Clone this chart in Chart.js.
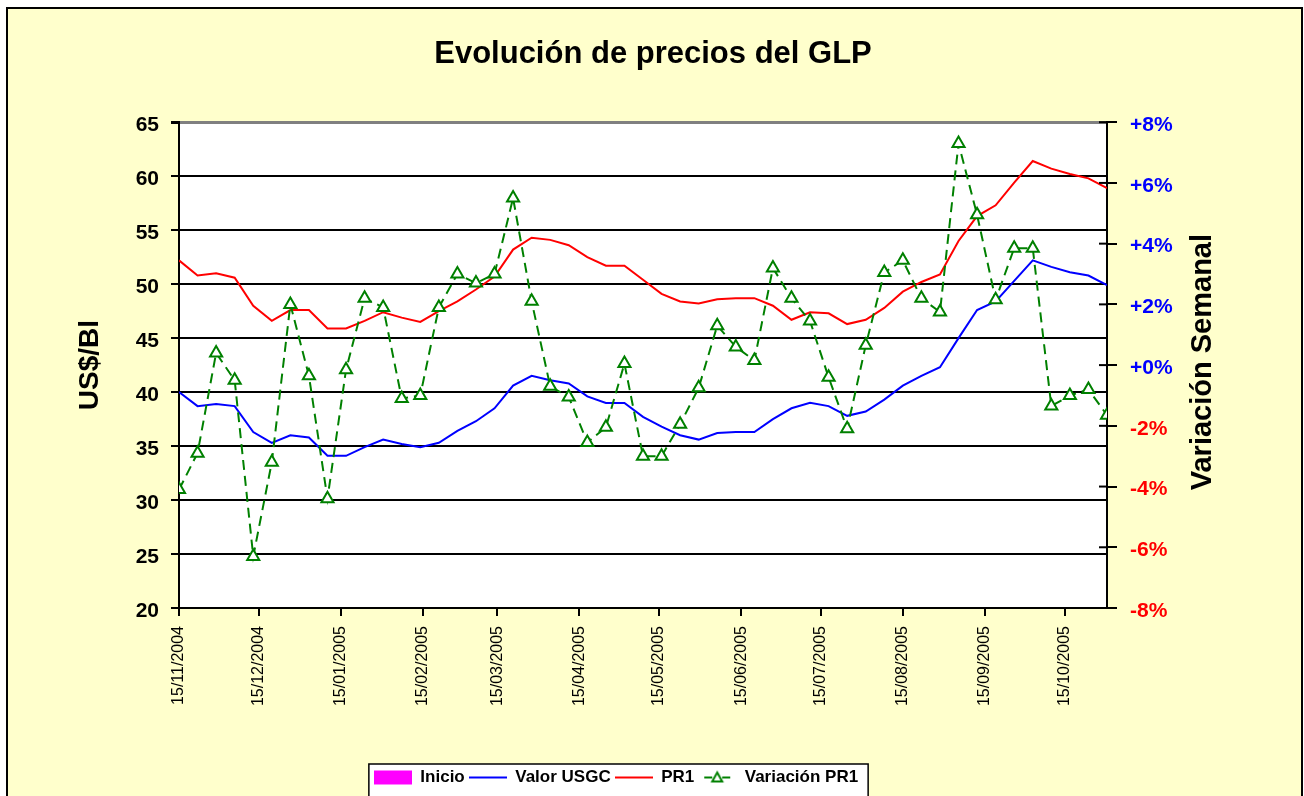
<!DOCTYPE html>
<html lang="es">
<head>
<meta charset="UTF-8">
<title>Evolución de precios del GLP</title>
<script src="https://cdn.jsdelivr.net/npm/chart.js@4.4.1/dist/chart.umd.min.js"></script>
<style>
  body { margin: 0; background: #fff; }
  #frame { position: absolute; left: 6px; top: 7px; width: 1297px; height: 820px; box-sizing: border-box;
           border: 2px solid #000; background: #FFFFCC; }
  #chart { position: absolute; left: 0; top: 0; }
</style>
</head>
<body>
<div id="frame"></div>
<canvas id="chart" width="1304" height="796"></canvas>

<script>
// weekly data, first point 15/11/2004
const startDate = Date.UTC(2004, 10, 15);
const xTickLabels = ['15/11/2004', '15/12/2004', '15/01/2005', '15/02/2005', '15/03/2005', '15/04/2005',
  '15/05/2005', '15/06/2005', '15/07/2005', '15/08/2005', '15/09/2005', '15/10/2005'];

const valorUSGC = [40.0, 38.7, 38.9, 38.7, 36.3, 35.3, 36.0, 35.8, 34.1, 34.1, 34.9, 35.6, 35.2, 34.9, 35.3, 36.4,
  37.3, 38.5, 40.6, 41.5, 41.1, 40.8, 39.6, 39.0, 39.0, 37.7, 36.8, 36.0, 35.6, 36.2, 36.3, 36.3, 37.5, 38.5,
  39.0, 38.7, 37.8, 38.2, 39.3, 40.6, 41.5, 42.3, 45.0, 47.6, 48.4, 50.3, 52.2, 51.6, 51.1, 50.8, 49.9];

const pr1 = [52.2, 50.8, 51.0, 50.6, 48.0, 46.6, 47.6, 47.6, 45.9, 45.9, 46.6, 47.4, 46.9, 46.5, 47.5, 48.4,
  49.5, 50.7, 53.2, 54.3, 54.1, 53.6, 52.5, 51.7, 51.7, 50.4, 49.1, 48.4, 48.2, 48.6, 48.7, 48.7, 48.0, 46.7,
  47.4, 47.3, 46.3, 46.7, 47.8, 49.3, 50.2, 50.9, 54.0, 56.3, 57.3, 59.4, 61.4, 60.7, 60.2, 59.8, 58.9];

const variacionPR1 = [-4.1, -2.9, 0.4, -0.5, -6.3, -3.2, 2.0, -0.35, -4.4, -0.15, 2.2, 1.9, -1.1, -1.0, 1.9, 3.0,
  2.7, 3.0, 5.5, 2.1, -0.7, -1.05, -2.55, -2.05, 0.05, -3.0, -3.0, -1.95, -0.75, 1.3, 0.6, 0.15, 3.2, 2.2,
  1.45, -0.4, -2.1, 0.65, 3.05, 3.45, 2.2, 1.75, 7.3, 4.95, 2.15, 3.85, 3.85, -1.35, -1.0, -0.8, -1.65];

const font = "'Liberation Sans', Arial, sans-serif";
Chart.defaults.font.family = font;
Chart.defaults.color = '#000';

// day offsets of the tick labels and of the weekly points
const tickDays = xTickLabels.map(s => {
  const [d, m, y] = s.split('/').map(Number);
  return (Date.UTC(y, m - 1, d) - startDate) / 864e5;
});
const weekDays = valorUSGC.map((v, i) => i * 7);
const toPoints = arr => arr.map((v, i) => ({x: weekDays[i], y: v}));

// small legend symbols
function icon(draw) {
  const c = document.createElement('canvas');
  c.width = 38; c.height = 16;
  draw(c.getContext('2d'));
  return c;
}
const legendIcons = [
  icon(g => { g.fillStyle = '#FF00FF'; g.fillRect(0, 1, 38, 14); }),
  icon(g => { g.fillStyle = '#0000FF'; g.fillRect(0, 7, 38, 2); }),
  icon(g => { g.fillStyle = '#FF0000'; g.fillRect(0, 7, 38, 2); }),
  icon(g => {
    g.fillStyle = '#008000';
    g.fillRect(6, 7, 8, 2); g.fillRect(24, 7, 8, 2);
    g.strokeStyle = '#008000'; g.lineWidth = 2;
    g.beginPath(); g.moveTo(19, 3); g.lineTo(24, 12); g.lineTo(14, 12); g.closePath(); g.stroke();
  })
];

const decor = {
  id: 'decor',
  afterLayout(chart) {
    const lg = chart.legend;
    const dx = 616 - (lg.left + lg.right) / 2;
    lg.left += dx; lg.right += dx;
  },
  beforeDraw(chart) {
    const {ctx, chartArea: a} = chart;
    ctx.save();
    ctx.fillStyle = '#fff';
    ctx.fillRect(a.left, a.top, a.right - a.left, a.bottom - a.top);
    const hb = chart.legend.legendHitBoxes;
    if (hb && hb.length) {
      const last = hb[hb.length - 1];
      const l = hb[0].left - 5, r = last.left + last.width + 10, t = hb[0].top - 5;
      ctx.fillRect(l, t, r - l, 40);
      ctx.strokeStyle = '#000'; ctx.lineWidth = 1.5;
      ctx.strokeRect(l, t, r - l, 40);
    }
    ctx.restore();
  },
  afterDraw(chart) {
    const {ctx, chartArea: a, scales} = chart;
    const y2 = scales.y2;
    ctx.save();
    ctx.strokeStyle = '#000'; ctx.lineWidth = 2;
    y2.ticks.forEach((t, i) => {
      const py = y2.getPixelForTick(i);
      ctx.beginPath(); ctx.moveTo(a.right - 8, py); ctx.lineTo(a.right, py); ctx.stroke();
    });
    ctx.translate(1203, (a.top + a.bottom) / 2 - 3);
    ctx.rotate(-Math.PI / 2);
    ctx.font = 'bold 29px ' + font;
    ctx.textAlign = 'center'; ctx.textBaseline = 'middle'; ctx.fillStyle = '#000';
    ctx.fillText('Variación Semanal', 0, 0);
    ctx.restore();
  }
};

new Chart(document.getElementById('chart'), {
  type: 'line',
  data: {
    datasets: [
      { label: 'Inicio', data: [], backgroundColor: '#FF00FF', borderColor: '#FF00FF', yAxisID: 'y' },
      { label: 'Valor USGC', data: toPoints(valorUSGC), borderColor: '#0000FF', borderWidth: 2,
        pointRadius: 0, tension: 0, yAxisID: 'y', order: 2 },
      { label: 'PR1', data: toPoints(pr1), borderColor: '#FF0000', borderWidth: 2,
        pointRadius: 0, tension: 0, yAxisID: 'y', order: 3 },
      { label: 'Variación PR1', data: toPoints(variacionPR1), borderColor: '#008000', borderWidth: 2,
        borderDash: [10, 6], pointStyle: 'triangle', pointRadius: 7, pointBorderWidth: 2,
        pointBorderColor: '#008000', pointBackgroundColor: '#fff', tension: 0, yAxisID: 'y2', order: 1 }
    ]
  },
  options: {
    responsive: false,
    animation: false,
    layout: { padding: { left: 8, right: 6, top: 8, bottom: 0 } },
    plugins: {
      title: {
        display: true, text: 'Evolución de precios del GLP', color: '#000',
        font: { size: 31, weight: 'bold', lineHeight: 1.2 }, padding: { top: 28, bottom: 49 }
      },
      legend: {
        position: 'bottom',
        labels: {
          usePointStyle: true, pointStyleWidth: 38, boxHeight: 16, padding: 4,
          font: { size: 17, weight: 'bold' }, color: '#000',
          generateLabels: chart => chart.data.datasets.map((ds, i) => ({
            text: ds.label, datasetIndex: i, pointStyle: legendIcons[i], hidden: false,
            fillStyle: 'transparent', strokeStyle: 'transparent', lineWidth: 0, fontColor: '#000'
          }))
        }
      },
      tooltip: { enabled: false }
    },
    scales: {
      x: {
        type: 'linear', min: 0, max: 350,
        afterBuildTicks: scale => { scale.ticks = tickDays.map(v => ({value: v})); },
        afterFit: scale => { scale.height = 157; },
        ticks: {
          autoSkip: false, minRotation: 90, maxRotation: 90, padding: 10,
          font: { size: 16 },
          callback: (v, i) => xTickLabels[i]
        },
        grid: { drawOnChartArea: false, tickLength: 8, color: '#000', tickColor: '#000', lineWidth: 2 },
        border: { color: '#000', width: 2 }
      },
      y: {
        position: 'left', min: 20, max: 65,
        afterFit: scale => { scale.width = 171; },
        ticks: { stepSize: 5, padding: 12, labelOffset: 3, font: { size: 21, weight: 'bold' }, color: '#000' },
        grid: {
          color: c => c.tick && c.tick.value === 65 ? '#808080' : '#000',
          lineWidth: c => c.tick && c.tick.value === 65 ? 3 : 2,
          tickColor: '#000', tickLength: 8
        },
        border: { color: '#000', width: 2 },
        title: { display: true, text: 'US$/Bl', color: '#000', font: { size: 28, weight: 'bold', lineHeight: 1.2 },
          padding: { top: 65, bottom: 0 } }
      },
      y2: {
        position: 'right', min: -8, max: 8,
        afterFit: scale => { scale.width = 191; },
        ticks: {
          stepSize: 2, padding: 13, labelOffset: 3, font: { size: 21, weight: 'bold' },
          color: c => c.tick.value >= 0 ? '#0000FF' : '#FF0000',
          callback: v => (v >= 0 ? '+' : '') + v + '%'
        },
        grid: { drawOnChartArea: false, tickLength: 10, color: '#000', lineWidth: 2 },
        border: { color: '#000', width: 2 }
      }
    }
  },
  plugins: [decor]
});
</script>
</body>
</html>
